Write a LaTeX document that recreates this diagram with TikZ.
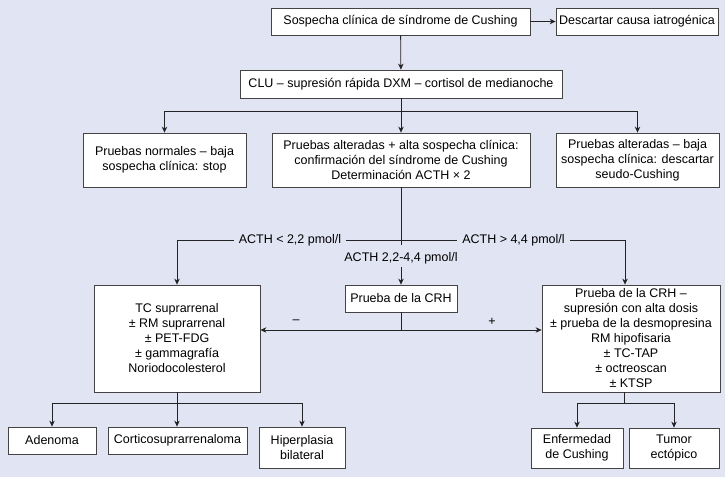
\documentclass[tikz,border=0pt]{standalone}
\usepackage{fontspec}
\setmainfont{Liberation Sans}
\usetikzlibrary{arrows.meta}
\definecolor{bg}{RGB}{225,228,242}
\definecolor{ln}{RGB}{35,35,35}
\begin{document}
\begin{tikzpicture}[x=1pt,y=-1pt,
  every node/.style={font=\fontsize{12.5}{15}\selectfont, align=center},
  box/.style={draw=ln!85, fill=white, line width=0.8pt, inner sep=0pt},
  conn/.style={draw=ln, line width=0.8pt},
  arr/.style={conn, -{Stealth[length=6pt,width=5.5pt]}},
  lbl/.style={fill=bg, inner xsep=5pt, inner ysep=2pt}]
\fill[bg] (0,0) rectangle (725,477);
\useasboundingbox (0,0) rectangle (725,477);
% nodes
\node[box, minimum width=259pt, minimum height=27pt] (sosp) at (400.5,21.5) {Sospecha clínica de síndrome de Cushing};
\node[box, minimum width=162pt, minimum height=27pt] (desc) at (637,21.5) {Descartar causa iatrogénica};
\node[box, minimum width=322pt, minimum height=28pt] (clu) at (401,84) {CLU – supresión rápida DXM – cortisol de medianoche};
\node[box, minimum width=163pt, minimum height=54pt] (norm) at (164.5,160) {Pruebas normales – baja\\sospecha clínica: stop};
\node[box, minimum width=258pt, minimum height=54pt] (alt) at (401,160) {Pruebas alteradas + alta sospecha clínica:\\confirmación del síndrome de Cushing\\Determinación ACTH × 2};
\node[box, minimum width=163pt, minimum height=54pt] (seudo) at (637.5,160) {Pruebas alteradas – baja\\sospecha clínica: descartar\\seudo-Cushing};
\node[box, minimum width=112pt, minimum height=27pt] (crh) at (401,298.5) {Prueba de la CRH};
\node[box, minimum width=166pt, minimum height=107pt] (tc) at (177,338.5) {TC suprarrenal\\± RM suprarrenal\\± PET-FDG\\± gammagrafía\\Noriodocolesterol};
\node[box, minimum width=178pt, minimum height=107pt] (pr) at (631,338.5) {Prueba de la CRH –\\supresión con alta dosis\\± prueba de la desmopresina\\RM hipofisaria\\± TC-TAP\\± octreoscan\\± KTSP};
\node[box, minimum width=88pt, minimum height=27pt] (aden) at (52,440.5) {Adenoma};
\node[box, minimum width=139pt, minimum height=27pt] (cort) at (177.5,440.5) {Corticosuprarrenaloma};
\node[box, minimum width=86pt, minimum height=41pt] (hiper) at (302,447.5) {Hiperplasia\\bilateral};
\node[box, minimum width=92pt, minimum height=40pt] (enf) at (577,448) {Enfermedad\\de Cushing};
\node[box, minimum width=90pt, minimum height=40pt] (tum) at (674,448) {Tumor\\ectópico};
% top connectors
\draw[arr] (sosp) -- (desc);
\draw[arr] (sosp) -- (clu);
\draw[conn] (clu.south) -- (401,111) coordinate (b0);
\draw[arr] (b0) -| (norm.north);
\draw[arr] (b0) -| (seudo.north);
\draw[arr] (b0) -- (alt.north);
% ACTH branch
\coordinate (aL) at (177,240);
\coordinate (aR) at (625,240);
\draw[conn] (alt.south) -- (401,245);
\draw[conn] (aL) -- (aR);
\node[lbl] (lL) at (290,240) {ACTH < 2,2 pmol/l};
\node[lbl] (lR) at (513.5,240) {ACTH > 4,4 pmol/l};
\draw[arr] (aL) -- (tc.north);
\draw[arr] (aR) -- (aR |- pr.north);
\node[inner sep=3pt] (mid) at (401,258) {ACTH 2,2-4,4 pmol/l};
\draw[arr] (mid.south) -- (crh.north);
% CRH result
\draw[conn] (crh.south) -- (401,330) coordinate (c0);
\draw[arr] (c0) -- (c0 -| tc.east);
\draw[arr] (c0) -- (c0 -| pr.west);
\node (minus) at (296,322) {–};
\node (plus) at (492,322) {+};
% bottom left
\draw[conn] (tc.south) -- (177,403) coordinate (t0);
\draw[conn] (t0 -| aden) -- (t0 -| hiper);
\draw[arr] (t0 -| aden) -- (aden.north);
\draw[arr] (t0) -- (t0 |- cort.north);
\draw[arr] (t0 -| hiper) -- (hiper.north);
% bottom right
\coordinate (p0) at (624,392);
\draw[conn] (p0) -- (624,403) coordinate (p1);
\draw[conn] (p1 -| enf) -- (p1 -| tum);
\draw[arr] (p1 -| enf) -- (enf.north);
\draw[arr] (p1 -| tum) -- (tum.north);
\end{tikzpicture}
\end{document}
